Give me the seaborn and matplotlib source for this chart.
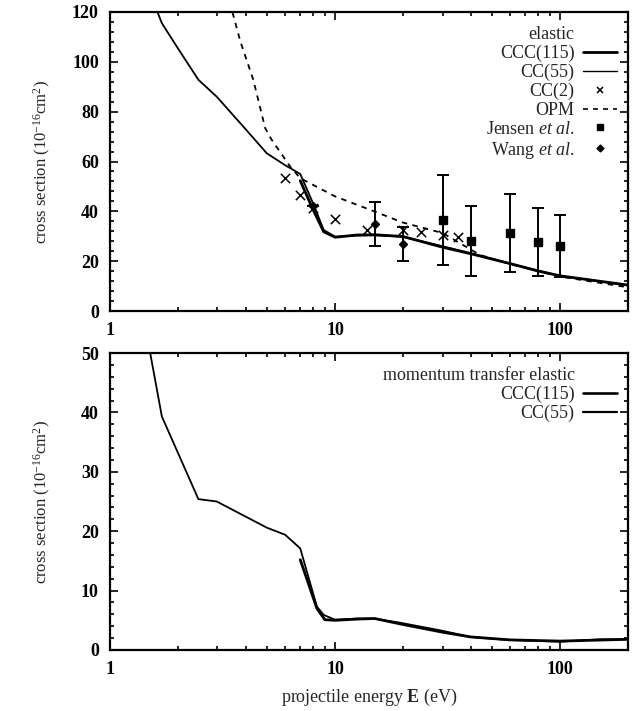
import numpy as np
import pandas as pd
import matplotlib
matplotlib.use("Agg")
import matplotlib.pyplot as plt
from matplotlib.lines import Line2D
from matplotlib.ticker import MultipleLocator, LogLocator, FixedLocator, FixedFormatter, NullFormatter
import seaborn as sns

# ---------------- data ----------------
# top panel: elastic
cc55_E = [1.50, 1.70, 2.0, 2.47, 2.98, 4.0, 4.97, 6.0, 7.0, 8.0, 8.9, 10, 12.5, 15, 20, 30, 40, 60, 80, 100, 200]
cc55_v = [128, 115.5, 105.5, 92.8, 86.0, 73.0, 63.3, 58.5, 55.0, 43.0, 32.5, 29.8, 30.3, 30.4, 29.8, 26.0, 23.2, 19.0, 16.2, 14.1, 10.3]

ccc_E = [7.0, 8.0, 8.9, 10, 12.5, 15, 20, 30, 40, 60, 80, 100, 200]
ccc_v = [52.3, 40.5, 31.8, 29.6, 30.5, 30.6, 29.9, 25.6, 23.0, 19.0, 16.0, 14.1, 10.4]

opm_E = [3.40, 3.8, 4.33, 4.89, 5.2, 6.31, 7.0, 10, 15, 20, 30, 44, 60, 100, 200]
opm_v = [124, 108, 92.8, 73.4, 69.0, 58.0, 53.3, 46.0, 39.9, 35.5, 31.3, 22.5, 18.8, 13.8, 9.5]

cc2_E = [6, 7, 8, 10, 13.8, 20, 24, 30, 35]
cc2_v = [53.5, 46.6, 41.2, 36.8, 32.5, 32.5, 31.8, 30.5, 29.6]

jensen_E = [30, 40, 60, 80, 100]
jensen_v = [36.5, 28.1, 31.4, 27.6, 26.1]
jensen_err = [18.2, 13.9, 15.7, 13.6, 12.5]

wang_E = [8, 15, 20]
wang_v = [42.0, 34.9, 26.9]
wang_err = [0.0, 8.7, 6.7]

# bottom panel: momentum transfer elastic
mt_cc55_E = [1.50, 1.70, 2.47, 2.98, 4.97, 6.0, 7.0, 8.3, 8.9, 10, 12.5, 14.8, 19.4, 30.3, 39.8, 58, 100, 150, 200]
mt_cc55_v = [50.5, 39.3, 25.4, 25.0, 20.6, 19.4, 17.1, 7.3, 5.9, 5.1, 5.3, 5.3, 4.6, 3.2, 2.2, 1.7, 1.4, 1.8, 1.8]

mt_ccc_E = [7.0, 8.3, 9.0, 10, 12.5, 15, 20, 30, 40, 60, 100, 200]
mt_ccc_v = [15.2, 7.0, 5.1, 5.0, 5.2, 5.3, 4.3, 3.0, 2.2, 1.7, 1.5, 1.8]

xticks = [1, 10, 100]
xticklabels = ["1", "10", "100"]

# ---------------- style ----------------
sns.set_style("ticks")
plt.rcParams["font.family"] = ["Liberation Serif", "DejaVu Serif"]
plt.rcParams["mathtext.fontset"] = "custom"
plt.rcParams["mathtext.rm"] = "Liberation Serif"
plt.rcParams["mathtext.it"] = "Liberation Serif:italic"
plt.rcParams["mathtext.bf"] = "Liberation Serif:bold"

fig = plt.figure(figsize=(6.34, 7.11), dpi=100)
W, H = 634, 711
ax1 = fig.add_axes([110 / W, 1 - 311 / H, (628 - 110) / W, (311 - 12) / H])
ax2 = fig.add_axes([110 / W, 1 - 650 / H, (628 - 110) / W, (650 - 353) / H])

black = "black"

# top panel
sns.lineplot(x=cc55_E, y=cc55_v, ax=ax1, color=black, lw=1.3, estimator=None, sort=False)
sns.lineplot(x=ccc_E, y=ccc_v, ax=ax1, color=black, lw=2.0, estimator=None, sort=False)
sns.lineplot(x=opm_E, y=opm_v, ax=ax1, color=black, lw=1.3, estimator=None, sort=False,
             linestyle=(0, (3, 3)))
sns.scatterplot(x=cc2_E, y=cc2_v, ax=ax1, color=black, marker="x", s=45, linewidth=1.1)
ax1.errorbar(jensen_E, jensen_v, yerr=jensen_err, fmt="s", color=black, ms=6,
             capsize=4, elinewidth=1.4, capthick=1.4)
ax1.errorbar(wang_E, wang_v, yerr=wang_err, fmt="D", color=black, ms=4,
             capsize=4, elinewidth=1.4, capthick=1.4)

# bottom panel
sns.lineplot(x=mt_cc55_E, y=mt_cc55_v, ax=ax2, color=black, lw=1.3, estimator=None, sort=False)
sns.lineplot(x=mt_ccc_E, y=mt_ccc_v, ax=ax2, color=black, lw=2.0, estimator=None, sort=False)

for ax, ymax, major, minor in [(ax1, 120, 20, 4), (ax2, 50, 10, 2)]:
    ax.set_xscale("log")
    ax.set_xlim(1, 200)
    ax.set_ylim(0, ymax)
    ax.yaxis.set_major_locator(MultipleLocator(major))
    ax.yaxis.set_minor_locator(MultipleLocator(minor))
    ax.xaxis.set_major_locator(FixedLocator(xticks))
    ax.xaxis.set_major_formatter(FixedFormatter(xticklabels))
    ax.xaxis.set_minor_locator(LogLocator(base=10, subs=np.arange(2, 10)))
    ax.xaxis.set_minor_formatter(NullFormatter())
    ax.tick_params(which="both", direction="in", top=True, right=True, width=1.2, colors=black)
    ax.tick_params(which="major", length=6, labelsize=13, pad=8)
    ax.tick_params(which="minor", length=3)
    for sp in ax.spines.values():
        sp.set_linewidth(1.6)
        sp.set_color(black)
    ax.set_ylabel(r"cross section $(10^{-16}{\rm cm}^2)$", fontsize=12)
    ax.yaxis.set_label_coords(-0.11, 0.5)
    ax.set_xlabel("")
    for t in ax.get_xticklabels() + ax.get_yticklabels():
        t.set_fontweight("bold")

ax2.set_xlabel(r"projectile energy $\mathbf{E}$ (eV)", fontsize=13, labelpad=6)

# legends (labels on the left, samples on the right)
blank = Line2D([], [], color="none")
h1 = [
    blank,
    Line2D([], [], color=black, lw=2.0),
    Line2D([], [], color=black, lw=1.0),
    Line2D([], [], color=black, lw=0, marker="x", ms=5, mew=1.1),
    Line2D([], [], color=black, lw=1.2, linestyle=(0, (3, 3))),
    Line2D([], [], color=black, lw=0, marker="s", ms=5),
    Line2D([], [], color=black, lw=0, marker="D", ms=3.5),
]
l1 = ["elastic", "CCC(115)", "CC(55)", "CC(2)", "OPM",
      r"Jensen $\it{et\ al.}$", r"Wang $\it{et\ al.}$"]
ax1.legend(h1, l1, loc="upper right", frameon=False, markerfirst=False, fontsize=13,
           handlelength=1.9, handletextpad=0.45, labelspacing=0.1,
           borderaxespad=0.2, bbox_to_anchor=(1.0, 0.99))

h2 = [blank, Line2D([], [], color=black, lw=1.9), Line2D([], [], color=black, lw=1.6)]
l2 = ["momentum transfer elastic", "CCC(115)", "CC(55)"]
ax2.legend(h2, l2, loc="upper right", frameon=False, markerfirst=False, fontsize=13,
           handlelength=1.9, handletextpad=0.45, labelspacing=0.1,
           borderaxespad=0.2, bbox_to_anchor=(1.0, 0.99))

fig.savefig("out.png", dpi=100)
